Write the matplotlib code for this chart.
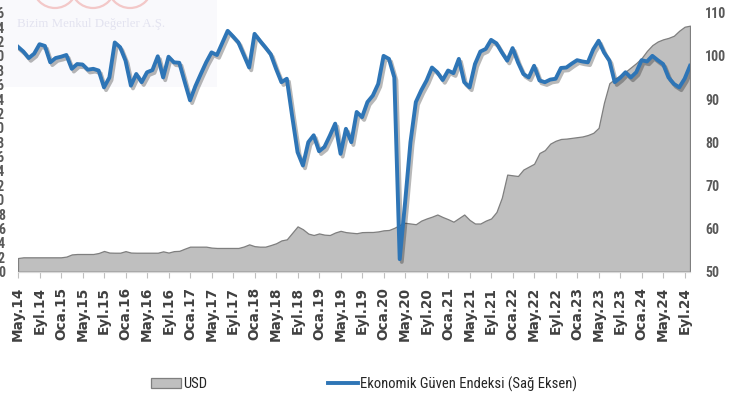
import numpy as np
import matplotlib
matplotlib.use("Agg")
import matplotlib.pyplot as plt
import matplotlib.patheffects as pe
from matplotlib import font_manager as fm
from matplotlib.patches import Rectangle, Ellipse, Patch
from matplotlib.lines import Line2D

# ---------------- data ----------------
tick_labels = ['May.14', 'Eyl.14', 'Oca.15', 'May.15', 'Eyl.15', 'Oca.16', 'May.16', 'Eyl.16',
               'Oca.17', 'May.17', 'Eyl.17', 'Oca.18', 'May.18', 'Eyl.18', 'Oca.19', 'May.19',
               'Eyl.19', 'Oca.20', 'May.20', 'Eyl.20', 'Oca.21', 'May.21', 'Eyl.21', 'Oca.22',
               'May.22', 'Eyl.22', 'Oca.23', 'May.23', 'Eyl.23', 'Oca.24', 'May.24', 'Eyl.24']

usd = [1.9, 2.0, 2.0, 2.0, 2.0, 2.0, 2.0, 2.0, 2.0, 2.1,
       2.4, 2.46, 2.46, 2.46, 2.46, 2.6, 2.88, 2.66, 2.64, 2.64,
       2.86, 2.66, 2.64, 2.64, 2.64, 2.64, 2.64, 2.83, 2.66, 2.86,
       2.9, 3.2, 3.48, 3.48, 3.48, 3.48, 3.35, 3.3, 3.3, 3.3,
       3.3, 3.3, 3.5, 3.8, 3.55, 3.48, 3.48, 3.7, 3.95, 4.35,
       4.5, 5.4, 6.3, 5.9, 5.3, 5.1, 5.32, 5.15, 5.1, 5.45,
       5.68, 5.5, 5.42, 5.35, 5.5, 5.52, 5.52, 5.6, 5.75, 5.8,
       6.1, 6.5, 6.8, 6.7, 6.6, 7.1, 7.4, 7.65, 7.95, 7.6,
       7.3, 6.95, 7.45, 7.95, 7.2, 6.7, 6.7, 7.1, 7.4, 8.3,
       10.3, 13.5, 13.4, 13.3, 14.2, 14.6, 15.0, 16.5, 16.9, 17.8,
       18.2, 18.45, 18.5, 18.6, 18.7, 18.8, 19.0, 19.3, 20.0, 23.5,
       26.2, 26.8, 27.3, 27.8, 28.4, 29.0, 29.7, 30.7, 31.5, 32.0,
       32.3, 32.5, 32.8, 33.5, 34.05, 34.2]

confidence = [102.1, 101.0, 99.5, 100.5, 102.7, 102.3, 98.5, 99.5, 99.8, 100.2,
              97.0, 98.1, 98.0, 96.8, 97.0, 96.6, 92.7, 95.0, 103.1, 102.0,
              98.9, 93.1, 95.8, 93.9, 96.2, 96.7, 99.9, 95.0, 99.8, 98.5,
              98.4, 94.0, 89.7, 93.0, 95.8, 98.5, 100.8, 100.2, 103.0, 105.8,
              104.5, 103.1, 100.2, 97.3, 105.1, 103.5, 102.0, 100.4, 97.0, 93.9,
              94.7, 86.0, 77.7, 74.6, 80.0, 81.6, 77.9, 78.9, 81.5, 84.3,
              77.3, 83.1, 80.0, 87.0, 85.8, 89.3, 90.8, 93.5, 100.0, 99.3,
              95.0, 52.9, 66.0, 80.0, 89.3, 92.0, 94.3, 97.3, 96.2, 94.4,
              96.6, 96.0, 99.3, 93.9, 92.7, 98.1, 101.0, 101.6, 103.7, 102.9,
              100.8, 98.9, 101.8, 98.5, 95.8, 95.0, 97.7, 94.3, 93.9, 94.5,
              94.7, 97.2, 97.3, 98.2, 99.0, 98.7, 98.5, 101.5, 103.5, 100.8,
              98.9, 93.9, 94.9, 96.2, 95.0, 96.2, 99.0, 98.7, 100.0, 99.0,
              98.1, 95.0, 93.5, 92.7, 94.7, 97.7]

left_ticks = list(range(0, 37, 2))
right_ticks = list(range(50, 111, 10))

# ---------------- fonts ----------------
names = {f.name for f in fm.fontManager.ttflist}
narrow = next((n for n in ['Liberation Sans Narrow', 'Roboto Condensed', 'Open Sans Condensed',
                           'Arial Narrow'] if n in names), 'Liberation Sans')

W, H = 742, 403
fig = plt.figure(figsize=(W / 100, H / 100), dpi=100)
fig.patch.set_facecolor('white')

# faint watermark block
fig.add_artist(Rectangle((0, 1 - 87 / H), 217 / W, 87 / H, transform=fig.transFigure,
                         facecolor='#f9f9fc', edgecolor='none', zorder=0))
for cx in [55, 93, 130]:
    fig.add_artist(Ellipse((cx / W, 1 - (-14) / H), 44 / W, 44 / H, transform=fig.transFigure,
                           facecolor='none', edgecolor='#f3c8c8', linewidth=1.6, zorder=0.5))
fig.text(17 / W, 1 - 24 / H, 'Bizim Menkul Değerler A.Ş.', family='Liberation Serif',
         fontsize=9.3, color='#e3e3f0', ha='left', va='center', zorder=0.6)

ax = fig.add_axes([18 / W, 1 - 271.7 / H, 672 / W, 259 / H])
ax.patch.set_visible(False)
ax2 = ax.twinx()

x = np.arange(len(usd))
ax.fill_between(x, usd, 0, facecolor='#bfbfbf', edgecolor='#7f7f7f', linewidth=0.9, zorder=2)
ax2.plot(x, confidence, color='#2e75b6', linewidth=2.8, solid_joinstyle='round',
         path_effects=[pe.SimpleLineShadow(offset=(1.5, -2), alpha=0.28, rho=0.3), pe.Normal()],
         zorder=3)

ax.set_xlim(0, len(usd) - 1)
ax.set_ylim(0, 36)
ax2.set_ylim(50, 110)

ax.set_xticks(range(0, 4 * len(tick_labels), 4))
ax.set_xticklabels(tick_labels, rotation=90, family='DejaVu Sans', fontweight='bold',
                   fontsize=9.8, color='#404040')
ax.set_yticks(left_ticks)
ax.set_yticklabels([str(v) for v in left_ticks], family=narrow, fontweight='bold',
                   fontsize=10, color='#595959')
ax2.set_yticks(right_ticks)
ax2.set_yticklabels([str(v) for v in right_ticks], family=narrow, fontweight='bold',
                    fontsize=10, color='#595959')

ax.tick_params(axis='x', length=4, width=0.8, color='#bfbfbf', pad=7)
ax.tick_params(axis='y', length=0, pad=9.4)
ax2.tick_params(axis='y', length=0, pad=10.8)

for s in ['top', 'left', 'right']:
    ax.spines[s].set_visible(False)
ax.spines['bottom'].set_color('#d9d9d9')
ax.spines['bottom'].set_linewidth(0.9)
for s in ax2.spines.values():
    s.set_visible(False)

handles = [Patch(facecolor='#bfbfbf', edgecolor='#7f7f7f', linewidth=0.9),
           Line2D([0], [0], color='#2e75b6', linewidth=2.8)]
leg = fig.legend(handles, ['USD', 'Ekonomik Güven Endeksi (Sağ Eksen)'], loc='center',
                 bbox_to_anchor=(0.491, 1 - 384 / H), ncol=2, frameon=False,
                 prop={'family': narrow, 'size': 10.5}, handlelength=2.05, handletextpad=0.15,
                 columnspacing=8.3, labelcolor='#262626')

fig.savefig('out.png', dpi=100)
